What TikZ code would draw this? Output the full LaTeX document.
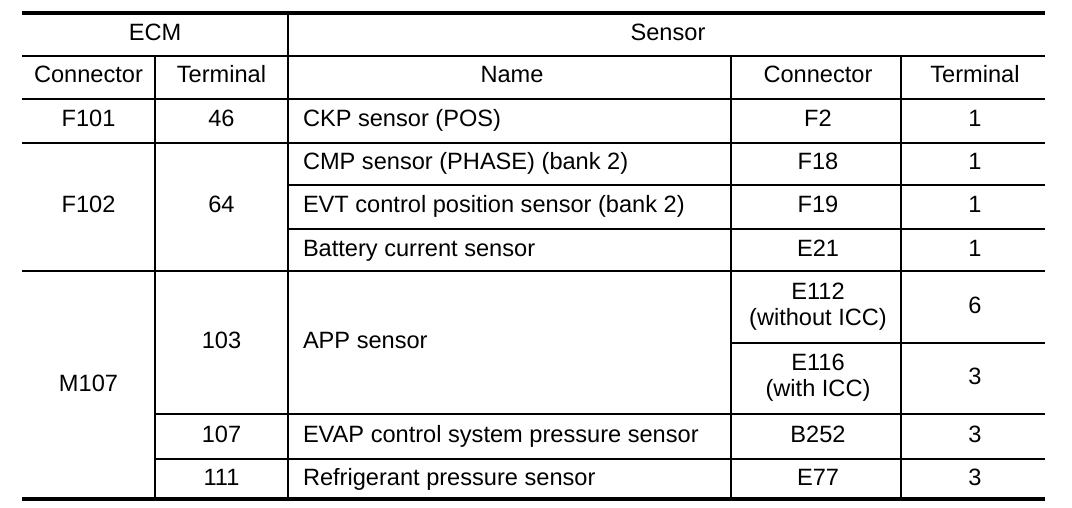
\documentclass[tikz,border=0pt]{standalone}
\usepackage{fontspec}
\setmainfont{Liberation Sans}
\begin{document}
\begin{tikzpicture}[x=1pt,y=-1pt,
  cell/.style={inner sep=0pt,outer sep=0pt,anchor=base,font=\fontsize{23.6}{26}\selectfont},
  lcell/.style={cell,anchor=base west},
  rule/.style={line width=1.5pt},
  vrule/.style={line width=2pt},
  outer/.style={line width=3.2pt}]
\useasboundingbox (0,0) rectangle (1072,508);
% horizontal rules
\draw[outer] (22,13) -- (1045,13);
\draw[outer] (22,499) -- (1045,499);
\draw[rule] (22,56) -- (1045,56);
\draw[rule,line width=2pt] (22,99) -- (1045,99);
\draw[rule] (22,143) -- (1045,143);
\draw[rule] (288,185) -- (1045,185);
\draw[rule] (288,229) -- (1045,229);
\draw[rule,line width=2pt] (22,271) -- (1045,271);
\draw[rule] (731,343) -- (1045,343);
\draw[rule] (155,414) -- (1045,414);
\draw[rule] (155,459) -- (1045,459);
% vertical rules
\draw[vrule] (155,56) -- (155,499);
\draw[vrule] (288,13) -- (288,499);
\draw[vrule] (731,56) -- (731,499);
\draw[vrule] (901,56) -- (901,499);
% headers
\node[cell] (ecm) at (155,40.5) {ECM};
\node[cell] (sensor) at (668,40.5) {Sensor};
\node[cell] (hconn) at (88.5,83) {Connector};
\node[cell] (hterm) at (221.5,83) {Terminal};
\node[cell] (hname) at (512,83) {Name};
\node[cell] (hsconn) at (818,83) {Connector};
\node[cell] (hsterm) at (975,83) {Terminal};
% F101
\node[cell] (c1) at (88.5,126.5) {F101};
\node[cell] (t1) at (221.5,126.5) {46};
\node[lcell] (n1) at (303,126.5) {CKP sensor (POS)};
\node[cell] (sc1) at (818,126.5) {F2};
\node[cell] (st1) at (975,126.5) {1};
% F102
\node[cell] (c2) at (88.5,213) {F102};
\node[cell] (t2) at (221.5,213) {64};
\node[lcell] (n2) at (303,170) {CMP sensor (PHASE) (bank 2)};
\node[cell] (sc2) at (818,170) {F18};
\node[cell] (st2) at (975,170) {1};
\node[lcell] (n3) at (303,213) {EVT control position sensor (bank 2)};
\node[cell] (sc3) at (818,213) {F19};
\node[cell] (st3) at (975,213) {1};
\node[lcell] (n4) at (303,256) {Battery current sensor};
\node[cell] (sc4) at (818,256) {E21};
\node[cell] (st4) at (975,256) {1};
% M107
\node[cell] (c3) at (88.5,391) {M107};
\node[cell] (t5) at (221.5,348.5) {103};
\node[lcell] (n5) at (303,348.5) {APP sensor};
\node[cell] (sc5a) at (818,299) {E112};
\node[cell] (sc5b) at (818,325) {(without ICC)};
\node[cell] (st5) at (975,313) {6};
\node[cell] (sc6a) at (818,370.5) {E116};
\node[cell] (sc6b) at (818,396.5) {(with ICC)};
\node[cell] (st6) at (975,384.5) {3};
\node[cell] (t7) at (221.5,442) {107};
\node[lcell] (n7) at (303,442) {EVAP control system pressure sensor};
\node[cell] (sc7) at (818,442) {B252};
\node[cell] (st7) at (975,442) {3};
\node[cell] (t8) at (221.5,485) {111};
\node[lcell] (n8) at (303,485) {Refrigerant pressure sensor};
\node[cell] (sc8) at (818,485) {E77};
\node[cell] (st8) at (975,485) {3};
\end{tikzpicture}
\end{document}
